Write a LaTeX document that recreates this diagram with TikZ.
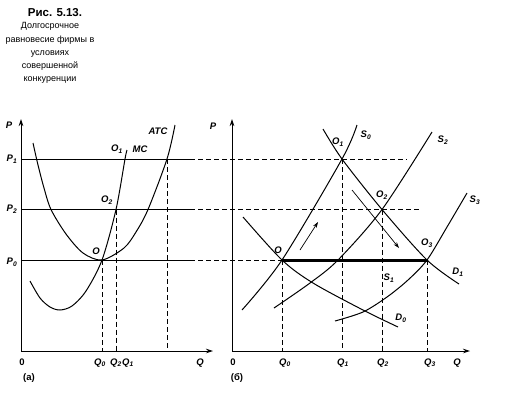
\documentclass[tikz,border=0pt]{standalone}
\usepackage{fontspec}
\setmainfont{Liberation Sans}
\usetikzlibrary{arrows.meta}

% label with a subscript, as the axes and points are printed
\newcommand{\ilab}[2]{\textit{#1}\textsubscript{#2}}

\begin{document}
\begin{tikzpicture}[
    x=1pt, y=-1pt,                               % pixel-like units, y downwards
    every node/.style={font=\fontsize{9.5}{10}\selectfont\bfseries\itshape, inner sep=0pt},
    upright/.style={font=\fontsize{9.5}{10}\selectfont\bfseries},
    caption/.style={font=\fontsize{9}{13.2}\selectfont, align=center},
    curve/.style={line width=1pt},               % supply, demand and cost curves
    level/.style={line width=1pt},               % solid price lines
    guide/.style={line width=0.7pt, dash pattern=on 5pt off 3pt},
    axis/.style={line width=0.8pt, -{Stealth[length=7pt,width=4.5pt]}},
    move/.style={line width=0.7pt, -{Stealth[length=6pt,width=4pt]}}
]
\useasboundingbox (0,0) rectangle (510,392);

% Caption
\node[font=\fontsize{11.5}{12}\selectfont\bfseries] (title) at (55,13) {Рис. 5.13.};
\node[caption, anchor=north] (text) at (50,22.5)
    {Долгосрочное\\равновесие фирмы в\\условиях\\совершенной\\конкуренции};

% ---------------- Panel (a) ----------------
\coordinate (a0) at (21,351);
\coordinate (aP) at (21,119);
\coordinate (aQ) at (213,351);
\coordinate (A)  at (102,260);   % O
\coordinate (A2) at (116,209.5); % O2
\coordinate (AT) at (167,159);   % ATC at P1
\draw[axis] (a0) -- (aP);
\draw[axis] (a0) -- (aQ);

% price levels, running on into panel (b)
\draw[level] (21,159) -- (190,159);
\draw[guide] (190,159) -- (407,159);
\draw[level] (21,209.5) -- (190,209.5);
\draw[guide] (190,209.5) -- (421,209.5);
\draw[level] (21,260) -- (190,260);
\draw[guide] (190,260) -- (282,260);

% MC and ATC
\draw[curve] plot[smooth] coordinates {(30,281) (40,298) (50,307) (60,310) (72,306) (86,291) (A) (A2) (125,159) (127,150)};
\draw[curve] plot[smooth] coordinates {(33,143) (38,165) (44,188) (51,209.5) (66,234) (83,253) (A) (124,248) (136,232) (148,209.5) (AT) (175,125)};

\draw[guide] (A) -- (102,351);
\draw[guide] (A2) -- (116,351);
\draw[guide] (AT) -- (167,351);

\node (aPlab) at (9,125) {P};
\node (aP1) at (12,159) {\ilab{P}{1}};
\node (aP2) at (12,209) {\ilab{P}{2}};
\node (aP0) at (12,262) {\ilab{P}{0}};
\node (aO) at (96,251) {O};
\node (aO2) at (107,200) {\ilab{O}{2}};
\node (aO1) at (117,149) {\ilab{O}{1}};
\node (aMC) at (140,149) {MC};
\node (aATC) at (158,131) {ATC};
\node[upright] (azero) at (22,362) {0};
\node (aQ0) at (100,363) {\ilab{Q}{0}};
\node (aQ2) at (116,363) {\ilab{Q}{2}};
\node (aQ1) at (128,363) {\ilab{Q}{1}};
\node (aQlab) at (200,363) {Q};
\node[upright] (acap) at (29,378) {(а)};

% ---------------- Panel (б) ----------------
\coordinate (b0) at (232,351);
\coordinate (bP) at (232,119);
\coordinate (bQ) at (470,351);
\coordinate (B)  at (282,260);   % O
\coordinate (B1) at (342,159);   % O1
\coordinate (B2) at (382,209.5); % O2
\coordinate (B3) at (427,260);   % O3
\draw[axis] (b0) -- (bP);
\draw[axis] (b0) -- (bQ);

% supply and demand curves
\draw[curve] plot[smooth] coordinates {(242,310) (B) (B1) (357,125)};                    % S0
\draw[curve] plot[smooth] coordinates {(323,129) (B1) (B2) (B3) (459,284)};              % D1
\draw[curve] plot[smooth] coordinates {(243,217) (B) (313,283) (363,310) (398,327)};     % D0
\draw[curve] plot[smooth] coordinates {(274,308) (310,283) (338,260) (B2) (432,132)};    % S2
\draw[curve] plot[smooth] coordinates {(335,321) (363,312) (387,297) (408,280) (B3) (447,227) (467,193)}; % S3

% long-run supply
\draw[line width=3pt] (B) -- (B3);

\draw[guide] (B) -- (282,351);
\draw[guide] (B1) -- (342,351);
\draw[guide] (B2) -- (382,351);
\draw[guide] (B3) -- (427,351);

% shifts
\coordinate (m1) at (300,250);
\coordinate (m2) at (318,222);
\coordinate (m3) at (352,190);
\coordinate (m4) at (399,248);
\draw[move] (m1) -- (m2);
\draw[move] (m3) -- (m4);

\node (bPlab) at (213,126) {P};
\node (bO) at (278,250) {O};
\node (bO1) at (338,142) {\ilab{O}{1}};
\node (bS0) at (366,135) {\ilab{S}{0}};
\node (bO2) at (382,195) {\ilab{O}{2}};
\node (bS2) at (443,140) {\ilab{S}{2}};
\node (bO3) at (427,243) {\ilab{O}{3}};
\node (bS3) at (475,200) {\ilab{S}{3}};
\node (bD1) at (458,272) {\ilab{D}{1}};
\node (bS1) at (389,278) {\ilab{S}{1}};
\node (bD0) at (401,318) {\ilab{D}{0}};
\node[upright] (bzero) at (233,362) {0};
\node (bQ0) at (285,363) {\ilab{Q}{0}};
\node (bQ1) at (343,363) {\ilab{Q}{1}};
\node (bQ2) at (383,363) {\ilab{Q}{2}};
\node (bQ3) at (430,363) {\ilab{Q}{3}};
\node (bQlab) at (457,363) {Q};
\node[upright] (bcap) at (237,378) {(б)};

\end{tikzpicture}
\end{document}
